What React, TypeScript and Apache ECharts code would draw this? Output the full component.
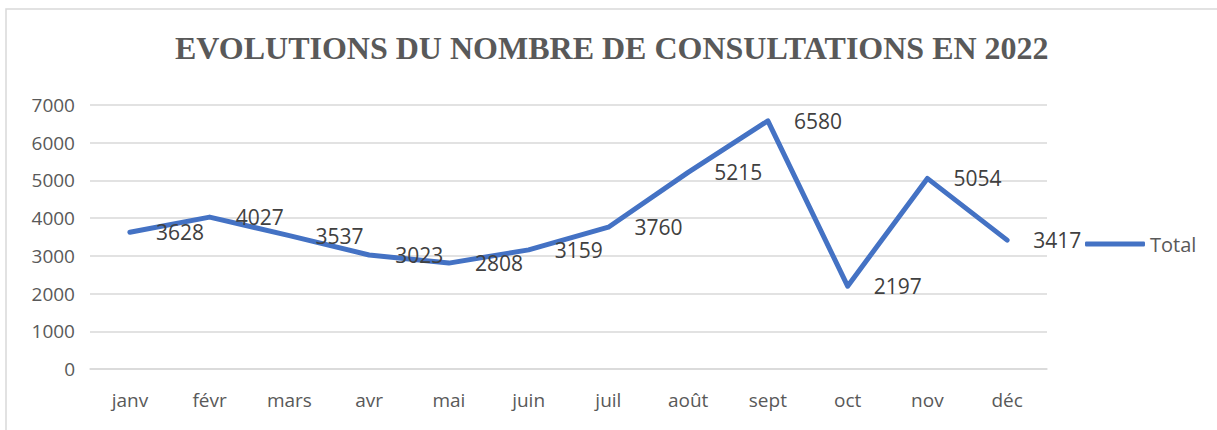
import React, { useEffect, useRef } from "react";
import * as echarts from "echarts";

const TITLE = "EVOLUTIONS DU NOMBRE DE CONSULTATIONS EN 2022";
const MONTHS = ["janv", "févr", "mars", "avr", "mai", "juin", "juil", "août", "sept", "oct", "nov", "déc"];
const TOTAL = [3628, 4027, 3537, 3023, 2808, 3159, 3760, 5215, 6580, 2197, 5054, 3417];
const SERIES_NAME = "Total";

export default function App() {
  const ref = useRef<HTMLDivElement>(null);
  useEffect(() => {
    document.body.style.margin = "0";
    const chart = echarts.init(ref.current!, null, { renderer: "svg" });
    chart.setOption({
      animation: false,
      backgroundColor: "#ffffff",
      title: {
        text: TITLE,
        left: 170,
        top: 27,
        textStyle: {
          fontFamily: "Liberation Serif",
          fontWeight: "bold",
          fontSize: 32,
          color: "#595959",
        },
      },
      graphic: [
        {
          type: "rect",
          shape: { x: 6, y: 9, width: 1300, height: 500 },
          style: { fill: "none", stroke: "#d9d9d9", lineWidth: 1.5 },
          silent: true,
        },
      ],
      legend: {
        data: [SERIES_NAME],
        left: 1080,
        top: 229,
        icon: "roundRect",
        itemWidth: 60,
        itemHeight: 5,
        itemGap: 6,
        textStyle: { fontFamily: "Open Sans", fontSize: 20, color: "#595959" },
      },
      grid: { left: 90, right: 170, top: 105, bottom: 61 },
      xAxis: {
        type: "category",
        data: MONTHS,
        boundaryGap: true,
        axisLine: { lineStyle: { color: "#d9d9d9", width: 1.5 } },
        axisTick: { show: false },
        axisLabel: { fontFamily: "Open Sans", fontSize: 19, color: "#595959", margin: 21 },
      },
      yAxis: {
        type: "value",
        min: 0,
        max: 7000,
        interval: 1000,
        axisLine: { show: false },
        axisTick: { show: false },
        splitLine: { lineStyle: { color: "#d9d9d9", width: 1.5 } },
        axisLabel: {
          fontFamily: "Open Sans",
          fontSize: 19,
          color: "#595959",
          margin: 15,
          formatter: (v: number) => String(v),
        },
      },
      series: [
        {
          name: SERIES_NAME,
          type: "line",
          data: TOTAL,
          showSymbol: true,
          symbol: "circle",
          symbolSize: 0.1,
          itemStyle: { color: "#4472C4" },
          lineStyle: { color: "#4472C4", width: 5, join: "round", cap: "round" },
          label: {
            show: true,
            position: "right",
            distance: 26,
            fontFamily: "Open Sans",
            fontSize: 21,
            color: "#404040",
          },
        },
      ],
    });
    return () => chart.dispose();
  }, []);
  return <div ref={ref} style={{ width: 1217, height: 430 }} />;
}
